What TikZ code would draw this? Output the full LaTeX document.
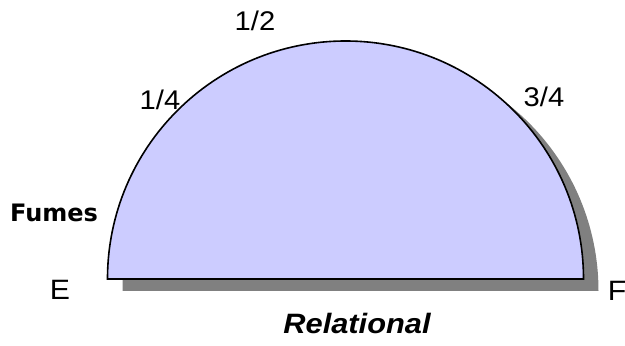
\documentclass[tikz,border=0pt]{standalone}
\usepackage{fontspec}
\setmainfont{Liberation Sans}
\newfontfamily\fumesfont{DejaVu Sans}
\usepackage{tikz}
\usetikzlibrary{positioning}
\definecolor{halffill}{RGB}{204,204,255}
\definecolor{shadowgray}{RGB}{128,128,128}

\begin{document}
\begin{tikzpicture}[x=1pt,y=1pt,
    tick/.style={font=\fontsize{27}{30}\selectfont, inner sep=0pt, xscale=1.08, transform shape},
    endpt/.style={font=\fontsize{28}{32}\selectfont, inner sep=0pt, xscale=1.08, transform shape},
    title/.style={font=\fontsize{28}{32}\selectfont\bfseries\itshape, inner sep=0pt, xscale=1.1, transform shape}
]
\useasboundingbox (0,0) rectangle (625,346);

% shadow and half disc
\fill[shadowgray] (122.5,55) -- (598.5,55) arc[start angle=0, end angle=180, radius=238] -- cycle;
\filldraw[fill=halffill, draw=black, line width=1.6pt] (107.5,67) -- (583.5,67) arc[start angle=0, end angle=180, radius=238] -- cycle;

\node[tick] (half) at (255,325) {1/2};
\node[tick] (quarter) at (160,246) {1/4};
\node[tick] (threeq) at (544,249) {3/4};
\node[font=\fontsize{24}{28}\selectfont\fumesfont\bfseries, inner sep=0pt] (fumes) at (54,133) {Fumes};
\node[endpt] (e) at (60,56) {E};
\node[endpt] (f) at (617,55) {F};
\node[title] (rel) at (357,23) {Relational};

\end{tikzpicture}
\end{document}
